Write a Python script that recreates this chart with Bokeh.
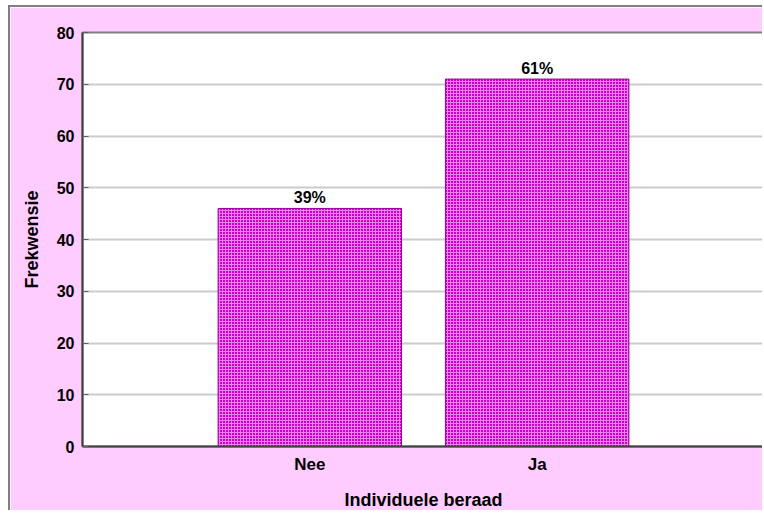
from bokeh.plotting import figure
from bokeh.models import ColumnDataSource, FactorRange, Range1d, FixedTicker
from bokeh.core.properties import value
from bokeh.embed import file_html
from bokeh.resources import INLINE

categories = ["Nee", "Ja"]
counts = [46, 71]
pct_labels = ["39%", "61%"]
y_ticks = [0, 10, 20, 30, 40, 50, 60, 70, 80]

FONT = "Liberation Sans"
PINK = "#ffccff"

src = ColumnDataSource(dict(cat=categories, cnt=counts, lab=pct_labels))

p = figure(
    width=754, height=505,
    x_range=FactorRange(factors=categories, range_padding=0.5,
                        range_padding_units="absolute"),
    y_range=Range1d(0, 80),
    output_backend="svg", toolbar_location=None,
    min_border_left=72, min_border_right=0, min_border_top=25, min_border_bottom=40,
    styles={"border-left": "2px solid #7f7f7f", "border-top": "2px solid #7f7f7f",
            "margin-left": "8px", "margin-top": "5px"},
)
p.border_fill_color = PINK
p.background_fill_color = "white"
p.outline_line_color = "#808080"
p.outline_line_width = 2

p.vbar(x="cat", top="cnt", width=0.807, source=src,
       fill_color="#cc00cc", line_color="#990099", line_width=1,
       hatch_pattern="+", hatch_color="#f080f0", hatch_scale=3, hatch_weight=1)

p.text(x="cat", y="cnt", text="lab", source=src,
       text_align="center", text_baseline="bottom", y_offset=-2,
       text_font=value(FONT), text_font_size="16px", text_font_style="bold",
       text_color="black")

# axes
p.yaxis.ticker = FixedTicker(ticks=y_ticks)
p.yaxis.axis_label = "Frekwensie"
p.xaxis.axis_label = "Individuele beraad"
for ax in (p.xaxis[0], p.yaxis[0]):
    ax.axis_line_color = "#404040"
    ax.axis_line_width = 2
    ax.major_label_text_font = FONT
    ax.major_label_text_font_style = "bold"
    ax.major_label_text_color = "black"
    ax.axis_label_text_font = FONT
    ax.axis_label_text_font_style = "bold"
    ax.axis_label_text_color = "black"
    ax.axis_label_text_font_size = "18px"
    ax.minor_tick_line_color = None

p.yaxis.major_label_text_font_size = "16px"
p.yaxis.major_tick_in = 6
p.yaxis.major_tick_out = 0
p.yaxis.major_tick_line_color = "#606060"
p.yaxis.major_label_standoff = 8
p.yaxis.axis_label_standoff = 12

p.xaxis.major_label_text_font_size = "17px"
p.xaxis.major_tick_line_color = None
p.xaxis.major_tick_out = 0
p.xaxis.major_label_standoff = 8
p.xaxis.axis_label_standoff = 13

p.xgrid.grid_line_color = None
p.ygrid.ticker = FixedTicker(ticks=y_ticks)
p.ygrid.grid_line_color = "#cccccc"
p.ygrid.grid_line_width = 2

open("out.html", "w").write(file_html(p, INLINE))
